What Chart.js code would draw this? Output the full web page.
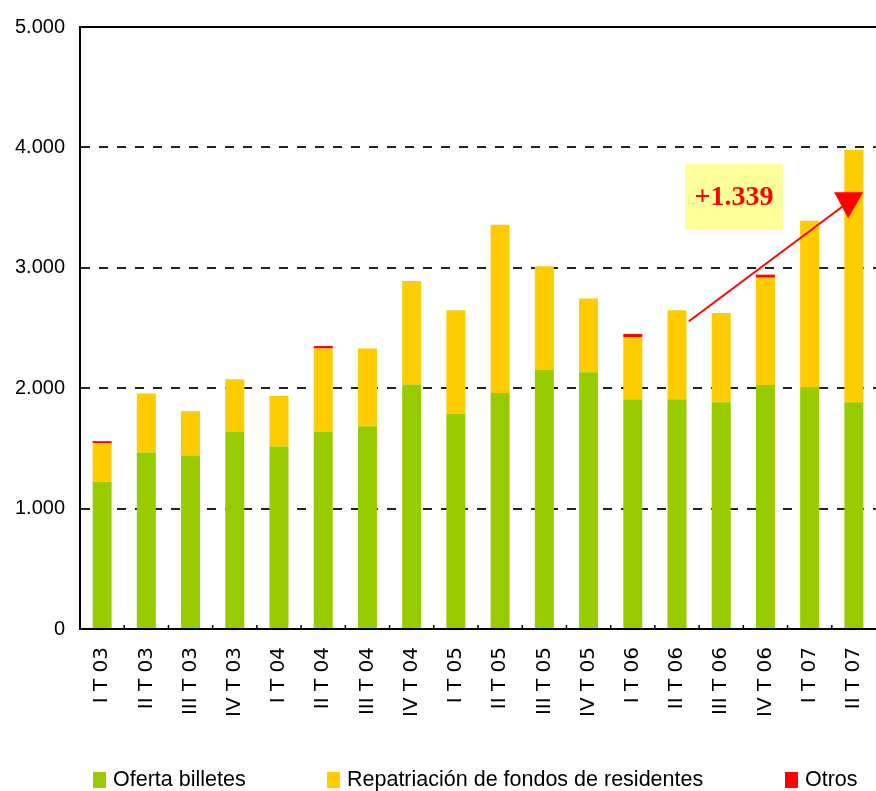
<!DOCTYPE html>
<html lang="es">
<head>
    <meta charset="UTF-8">
    <title>Oferta de billetes</title>
    <script src="https://cdn.jsdelivr.net/npm/chart.js"></script>
    <style>
        body {
            margin: 0;
            background: #ffffff;
        }

        .wrap {
            position: relative;
            width: 876px;
            height: 791px;
        }

        .legend-item {
            position: absolute;
            top: 766px;
            font-family: 'Liberation Sans', Arial, sans-serif;
            font-size: 21.5px;
            color: #000;
            white-space: nowrap;
            line-height: 26px;
        }

        .legend-item span {
            display: inline-block;
            width: 13px;
            height: 16px;
            margin-right: 7px;
            vertical-align: -2px;
        }
    </style>
</head>
<body>

    <div class="wrap">
        <canvas id="billetesChart" width="876" height="791"></canvas>
        <div class="legend-item" style="left:93px"><span id="lg0"></span><b id="lt0" style="font-weight:normal"></b></div>
        <div class="legend-item" style="left:327px"><span id="lg1"></span><b id="lt1" style="font-weight:normal"></b></div>
        <div class="legend-item" style="left:785px"><span id="lg2"></span><b id="lt2" style="font-weight:normal"></b></div>
    </div>

    <script>
        // Datos del gráfico
        const categories = ['I T 03', 'II T 03', 'III T 03', 'IV T 03', 'I T 04', 'II T 04', 'III T 04', 'IV T 04',
                            'I T 05', 'II T 05', 'III T 05', 'IV T 05', 'I T 06', 'II T 06', 'III T 06', 'IV T 06',
                            'I T 07', 'II T 07'];
        const seriesNames = ['Oferta billetes', 'Repatriación de fondos de residentes', 'Otros'];
        const ofertaBilletes = [1220, 1465, 1440, 1640, 1515, 1640, 1685, 2030, 1785, 1960, 2152, 2132, 1908, 1908, 1883, 2027, 2010, 1883];
        const repatriacion   = [322, 492, 370, 435, 420, 690, 644, 861, 862, 1398, 860, 612, 515, 739, 742, 891, 1381, 2096];
        const otros          = [18, 0, 0, 0, 0, 20, 0, 0, 0, 0, 0, 0, 27, 0, 0, 25, 0, 0];
        const yTicks = [0, 1000, 2000, 3000, 4000, 5000];
        const seriesColors = ['#99cc00', '#ffcc00', '#ff0000'];

        // Anotación (+1.339) en unidades de datos
        const annotText = '+1.339';
        const annotBox = [14.29, 3590];
        const arrowFrom = [13.27, 2556];
        const arrowTo = [16.78, 3520];

        // leyenda en html
        seriesNames.forEach(function(name, i) {
            document.getElementById('lg' + i).style.background = seriesColors[i];
            document.getElementById('lt' + i).textContent = name;
        });

        const overlay = {
            id: 'overlay',
            afterDraw(chart) {
                const ctx = chart.ctx;
                const a = chart.chartArea;
                const x = chart.scales.x;
                const y = chart.scales.y;
                ctx.save();

                // marco superior
                ctx.strokeStyle = '#000';
                ctx.lineWidth = 2;
                ctx.beginPath();
                ctx.moveTo(a.left - 1, y.getPixelForValue(yTicks[yTicks.length - 1]));
                ctx.lineTo(a.right, y.getPixelForValue(yTicks[yTicks.length - 1]));
                ctx.stroke();

                // pequeñas marcas entre categorías
                ctx.lineWidth = 1.5;
                ctx.beginPath();
                for (let i = 1; i < categories.length; i++) {
                    const px = (x.getPixelForValue(i - 1) + x.getPixelForValue(i)) / 2;
                    ctx.moveTo(px, a.bottom);
                    ctx.lineTo(px, a.bottom - 4);
                }
                ctx.stroke();

                // flecha roja
                const x1 = x.getPixelForValue(arrowFrom[0]), y1 = y.getPixelForValue(arrowFrom[1]);
                const x2 = x.getPixelForValue(arrowTo[0]), y2 = y.getPixelForValue(arrowTo[1]);
                ctx.strokeStyle = '#ff0000';
                ctx.lineWidth = 2;
                ctx.beginPath();
                ctx.moveTo(x1, y1);
                ctx.lineTo(x2, y2);
                ctx.stroke();
                ctx.fillStyle = '#ff0000';
                ctx.beginPath();
                ctx.moveTo(x2 - 10, y2 - 13);
                ctx.lineTo(x2 + 19, y2 - 13);
                ctx.lineTo(x2 + 4, y2 + 13);
                ctx.closePath();
                ctx.fill();

                // caja amarilla con texto
                const bx = x.getPixelForValue(annotBox[0]);
                const by = y.getPixelForValue(annotBox[1]);
                ctx.fillStyle = '#ffff99';
                ctx.fillRect(bx - 49, by - 33, 98, 66);
                ctx.fillStyle = '#ff0000';
                ctx.font = "bold 28px 'Liberation Serif', serif";
                ctx.textAlign = 'center';
                ctx.textBaseline = 'middle';
                ctx.fillText(annotText, bx, by + 1);
                ctx.restore();
            }
        };

        const ctxBilletes = document.getElementById('billetesChart').getContext('2d');

        new Chart(ctxBilletes, {
            type: 'bar',
            data: {
                labels: categories,
                datasets: [
                    { label: seriesNames[0], data: ofertaBilletes, backgroundColor: seriesColors[0] },
                    { label: seriesNames[1], data: repatriacion, backgroundColor: seriesColors[1] },
                    { label: seriesNames[2], data: otros, backgroundColor: seriesColors[2] }
                ]
            },
            options: {
                responsive: false,
                animation: false,
                layout: { padding: { top: 27, left: 0, right: 0, bottom: 0 } },
                datasets: {
                    bar: { barPercentage: 0.43, categoryPercentage: 1 }
                },
                plugins: {
                    legend: { display: false },
                    tooltip: { enabled: false }
                },
                scales: {
                    x: {
                        stacked: true,
                        afterFit: function(scale) {
                            scale.height = 162;
                            scale.paddingLeft = 0;
                            scale.paddingRight = 0;
                        },
                        grid: { display: false },
                        border: { display: true, color: '#000', width: 2 },
                        ticks: {
                            minRotation: 90,
                            maxRotation: 90,
                            padding: 10,
                            color: '#000',
                            font: { family: "'DejaVu Sans', sans-serif", size: 20 }
                        }
                    },
                    y: {
                        stacked: true,
                        min: 0,
                        max: 5000,
                        afterFit: function(scale) { scale.width = 80; },
                        afterBuildTicks: function(scale) {
                            scale.ticks = yTicks.map(function(v) { return { value: v }; });
                        },
                        grid: {
                            drawTicks: false,
                            lineWidth: 2,
                            color: function(c) { return c.tick && c.tick.value === 0 ? 'rgba(0,0,0,0)' : '#222'; }
                        },
                        border: { display: true, color: '#000', width: 2, dash: [9, 9] },
                        ticks: {
                            padding: 15,
                            color: '#000',
                            font: { family: "'Liberation Sans', Arial, sans-serif", size: 20 },
                            callback: function(value) {
                                return value.toString().replace(/\B(?=(\d{3})+(?!\d))/g, '.');
                            }
                        }
                    }
                }
            },
            plugins: [overlay]
        });
    </script>

</body>
</html>
